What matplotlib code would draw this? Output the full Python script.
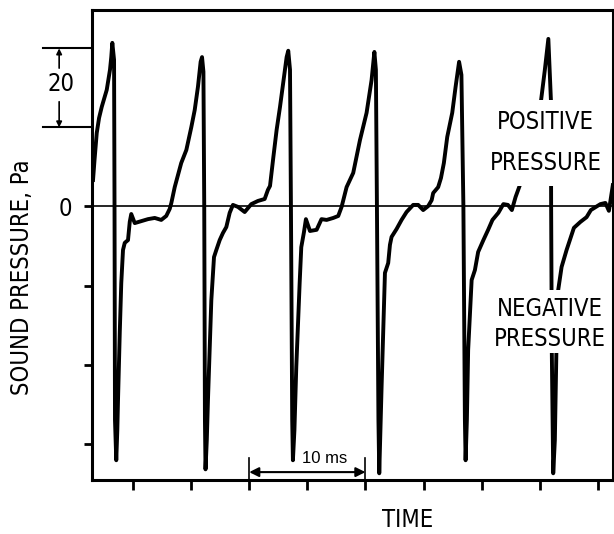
import matplotlib
matplotlib.use("Agg")
import matplotlib.pyplot as plt
from matplotlib.patches import Rectangle
from matplotlib import font_manager

# look for a narrow face for the lettering
narrow = None
for f in font_manager.fontManager.ttflist:
    if 'Narrow' in f.name or f.stretch in ('condensed', 'semi-condensed', 'extra-condensed'):
        narrow = f
        break
print(narrow)
if narrow is not None:
    plt.rcParams['font.family'] = [narrow.name, 'DejaVu Sans']
    plt.rcParams['font.stretch'] = narrow.stretch
else:
    plt.rcParams['font.family'] = ['DejaVu Sans']

# waveform: time in ms, pressure in Pa
time_ms = [
    # start + first peak
    1.56, 1.69, 1.88, 2.08, 2.31, 2.74, 3.02, 3.13, 3.22,
    3.37, 3.41, 3.45, 3.56, 3.65, 3.71, 3.86, 3.99, 4.14, 4.29, 4.57, 4.72, 4.85,
    5.15, 5.71, 6.29, 6.87, 7.43, 7.86, 8.16, 8.30, 8.59, 8.87, 9.15, 9.59,
    10.02, 10.31, 10.59, 10.82, 10.94,
    # cycle 2
    11.06, 11.13, 11.19, 11.24, 11.35, 11.45, 11.74, 11.97, 12.17, 12.46, 12.74,
    13.03, 13.32, 13.60, 14.03, 14.61, 15.18, 15.75, 16.33, 16.61, 16.79, 17.07,
    17.36, 17.65, 17.93, 18.22, 18.36,
    # cycle 3
    18.51, 18.59, 18.70, 18.76, 18.89, 19.05, 19.34, 19.48, 19.71, 19.88, 20.23,
    20.80, 21.22, 21.66, 22.23, 22.66, 22.95, 23.38, 23.95, 24.53, 25.10, 25.53,
    25.77,
    # cycle 4
    25.90, 25.99, 26.12, 26.19, 26.29, 26.39, 26.68, 26.96, 27.11, 27.25, 27.68,
    28.11, 28.54, 29.11, 29.54, 29.97, 30.40, 30.70, 30.83, 31.26, 31.50, 31.75,
    32.04, 32.47, 32.76, 33.06,
    # cycle 5
    33.26, 33.43, 33.56, 33.62, 33.73, 33.84, 34.14, 34.42, 34.70, 35.15, 35.56,
    35.93, 36.44, 36.87, 37.26, 37.60, 37.92, 38.29, 39.15, 39.75, 40.12, 40.44,
    40.74,
    # cycle 6
    40.96, 40.98, 41.04, 41.16, 41.30, 41.43, 41.59, 41.88, 42.31, 42.59, 42.94,
    43.50, 44.03, 44.40, 45.22, 45.65, 45.95, 46.09, 46.29,
]
pressure_pa = [
    6.7, 11.8, 18.6, 22.4, 25.2, 29.5, 34.6, 37.8, 41.4,
    37.1, 0.1, -54.0, -64.2, -56.6, -49.0, -32.0, -19.4, -11.0, -9.2, -8.5, -3.9, -1.9,
    -4.2, -3.7, -3.2, -2.9, -3.4, -2.4, -0.6, 0.9, 4.9, 8.0, 11.0, 14.3,
    20.1, 24.4, 30.3, 36.6, 37.8,
    34.1, 0.1, -54.0, -66.5, -59.1, -49.0, -23.7, -12.8, -11.0, -8.5, -6.7,
    -5.2, -1.6, 0.4, -0.1, -1.4, 0.6, 1.4, 1.9, 4.2, 5.2, 12.3,
    19.4, 25.2, 31.3, 37.8, 39.4,
    34.6, 0.1, -54.0, -64.2, -56.6, -40.6, -19.4, -10.3, -6.5, -3.2, -6.2,
    -5.9, -3.2, -3.4, -2.9, -2.4, -0.1, 4.9, 8.5, 16.8, 23.7, 32.0,
    39.1,
    34.6, 0.1, -54.0, -67.5, -56.6, -45.7, -16.8, -14.3, -9.7, -7.7, -5.7,
    -3.4, -1.4, 0.4, 0.4, -0.9, 0.1, 1.6, 3.4, 4.9, 7.2, 11.0,
    17.6, 23.7, 30.3, 36.6,
    33.3, 0.1, -54.0, -64.2, -54.0, -36.3, -18.6, -16.1, -11.5, -8.5, -5.9,
    -3.4, -1.6, 0.6, 0.4, -0.9, 2.4, 5.4, 13.0, 21.9, 27.0, 34.6,
    42.4,
    27.0, 0.1, -37.1, -67.5, -59.1, -37.1, -21.1, -15.3, -11.0, -8.5, -5.4,
    -3.9, -2.7, -0.9, 0.6, 0.9, -1.1, 1.6, 5.4,
]

x_ticks = [5, 10, 15, 20, 25, 30, 35, 40, 45]
y_ticks = [0, -20, -40, -60]
y_ticklabels = ['0', '', '', '']

fs = 17 if narrow is not None else 14.5

fig = plt.figure(figsize=(6.14, 5.34), dpi=100)
ax = fig.add_axes([0.1498, 0.1011, 0.8485, 0.8801])

ax.plot(time_ms, pressure_pa, color='black', lw=2.8, solid_joinstyle='round', zorder=2)
ax.axhline(0, color='black', lw=1.2, zorder=1)

ax.set_xlim(1.47, 46.3)
ax.set_ylim(-69.2, 49.7)
ax.set_xticks(x_ticks)
ax.set_xticklabels([])
ax.set_yticks(y_ticks)
ax.set_yticklabels(y_ticklabels, fontsize=fs)
ax.tick_params(axis='x', direction='out', length=7, width=2)
ax.tick_params(axis='y', direction='out', length=6, width=2, pad=8)
for s in ax.spines.values():
    s.set_linewidth(2.2)

# white boxes where the labels break the trace
ax.add_patch(Rectangle((36.3, 5.2), 8.6, 21.8, facecolor='white', edgecolor='none', zorder=3))
ax.add_patch(Rectangle((36.6, -37.1), 8.6, 16.0, facecolor='white', edgecolor='none', zorder=3))
ax.text(40.45, 21.4, 'POSITIVE', ha='center', va='center', fontsize=fs, zorder=4)
ax.text(40.5, 11.0, 'PRESSURE', ha='center', va='center', fontsize=fs, zorder=4)
ax.text(40.87, -25.9, 'NEGATIVE', ha='center', va='center', fontsize=fs, zorder=4)
ax.text(40.87, -33.5, 'PRESSURE', ha='center', va='center', fontsize=fs, zorder=4)

# 10 ms scale bar
ax.plot([15, 15], [-63.7, -69.2], color='black', lw=1.2, clip_on=False)
ax.plot([25, 25], [-63.7, -69.2], color='black', lw=1.2, clip_on=False)
ax.annotate('', xy=(15, -67.2), xytext=(25, -67.2),
            arrowprops=dict(arrowstyle='<|-|>', color='black', lw=1.5, mutation_scale=14,
                            shrinkA=0, shrinkB=0))
ax.text(21.5, -63.8, '10 ms', ha='center', va='center', fontsize=12,
        family=['Liberation Sans', 'DejaVu Sans'], stretch='normal')

# 20 Pa dimension mark on the left
tr = ax.get_yaxis_transform()
for lvl in [20, 40]:
    ax.plot([-0.094, 0], [lvl, lvl], color='black', lw=1.5, transform=tr, clip_on=False)
ax.annotate('', xy=(-0.063, 40), xytext=(-0.063, 35), xycoords=tr, textcoords=tr,
            arrowprops=dict(arrowstyle='-|>', color='black', lw=1.2, mutation_scale=8,
                            shrinkA=0, shrinkB=0))
ax.annotate('', xy=(-0.063, 20), xytext=(-0.063, 26.5), xycoords=tr, textcoords=tr,
            arrowprops=dict(arrowstyle='-|>', color='black', lw=1.2, mutation_scale=8,
                            shrinkA=0, shrinkB=0))
ax.text(-0.059, 31, '20', transform=tr, ha='center', va='center', fontsize=fs)

fig.text(0.0358, 0.481, 'SOUND PRESSURE, Pa', rotation=90, ha='center', va='center', fontsize=fs)
fig.text(0.6645, 0.004, 'TIME', ha='center', va='bottom', fontsize=fs)

fig.savefig('out.png', dpi=100)
